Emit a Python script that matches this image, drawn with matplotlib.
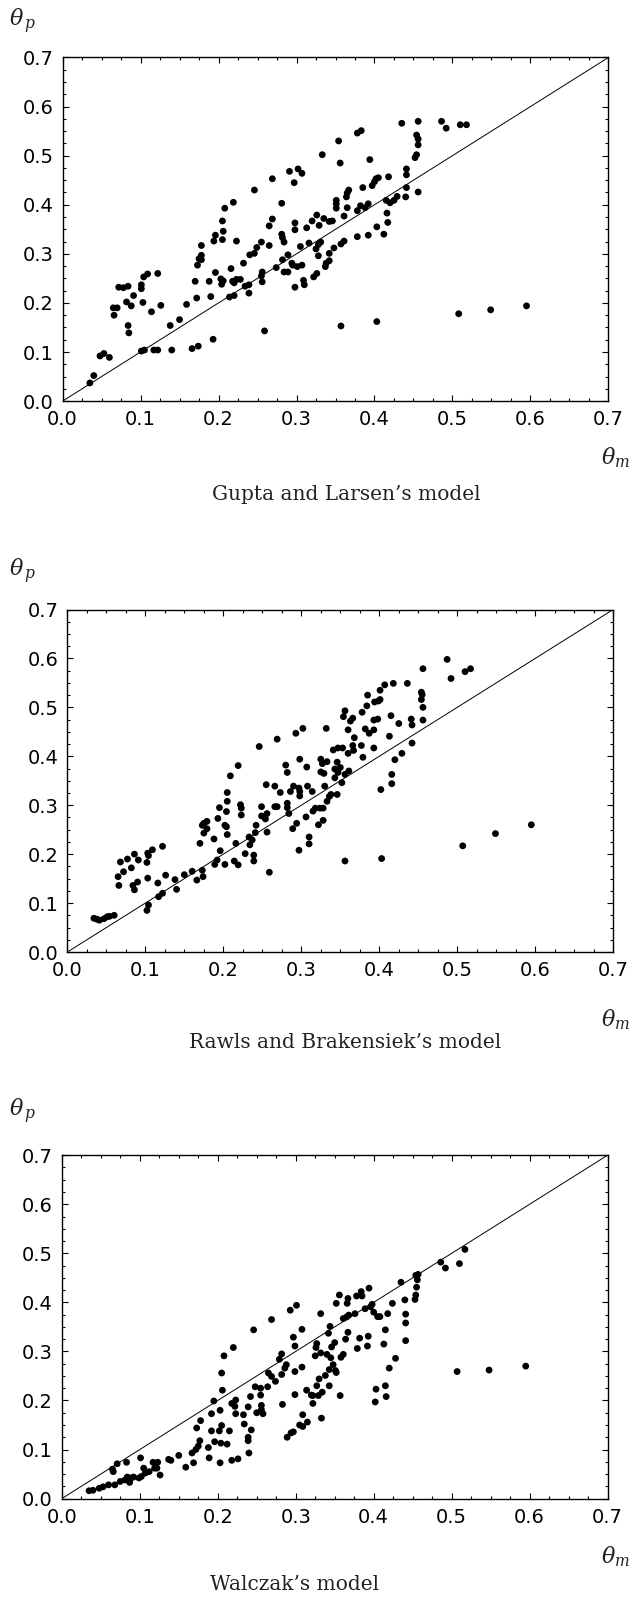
import matplotlib
matplotlib.use('Agg')
import matplotlib.pyplot as plt
from matplotlib.ticker import MultipleLocator

# ---------------- data (theta_m, theta_p) ----------------
gupta_larsen = [
    (0.035, 0.037), (0.040, 0.052), (0.048, 0.092), (0.053, 0.097), (0.060, 0.089),
    (0.065, 0.190), (0.066, 0.175), (0.070, 0.190), (0.072, 0.232), (0.078, 0.231),
    (0.084, 0.234), (0.082, 0.202), (0.084, 0.154), (0.085, 0.139), (0.088, 0.194),
    (0.091, 0.215), (0.101, 0.237), (0.101, 0.229), (0.103, 0.201), (0.104, 0.253),
    (0.109, 0.259), (0.101, 0.102), (0.105, 0.104), (0.114, 0.182), (0.117, 0.104),
    (0.122, 0.104), (0.122, 0.260), (0.126, 0.195), (0.138, 0.154), (0.140, 0.104),
    (0.150, 0.166), (0.159, 0.197), (0.166, 0.107), (0.170, 0.244), (0.172, 0.210),
    (0.173, 0.277), (0.174, 0.112), (0.175, 0.290), (0.178, 0.297), (0.178, 0.317),
    (0.178, 0.288), (0.188, 0.244), (0.190, 0.213), (0.193, 0.126), (0.194, 0.326),
    (0.196, 0.338), (0.196, 0.262), (0.203, 0.249), (0.204, 0.238), (0.205, 0.329),
    (0.206, 0.346), (0.205, 0.367), (0.208, 0.393), (0.206, 0.245), (0.214, 0.212),
    (0.216, 0.270), (0.218, 0.244), (0.220, 0.241), (0.220, 0.215), (0.219, 0.405),
    (0.223, 0.326), (0.223, 0.248), (0.228, 0.248), (0.232, 0.281), (0.234, 0.234),
    (0.239, 0.237), (0.239, 0.220), (0.240, 0.298), (0.246, 0.430), (0.246, 0.301),
    (0.249, 0.313), (0.255, 0.324), (0.256, 0.263), (0.255, 0.255), (0.256, 0.243),
    (0.259, 0.143), (0.265, 0.357), (0.265, 0.317), (0.269, 0.453), (0.269, 0.371),
    (0.274, 0.272), (0.281, 0.403), (0.281, 0.340), (0.282, 0.333), (0.284, 0.324),
    (0.282, 0.288), (0.284, 0.263), (0.289, 0.298), (0.289, 0.263), (0.291, 0.468),
    (0.294, 0.281), (0.295, 0.277), (0.297, 0.445), (0.298, 0.232), (0.298, 0.363),
    (0.298, 0.349), (0.301, 0.274), (0.302, 0.473), (0.307, 0.464), (0.305, 0.315),
    (0.307, 0.277), (0.309, 0.246), (0.310, 0.237), (0.313, 0.353), (0.316, 0.322),
    (0.320, 0.367), (0.322, 0.253), (0.325, 0.310), (0.326, 0.260), (0.326, 0.379),
    (0.328, 0.319), (0.329, 0.358), (0.328, 0.296), (0.331, 0.324), (0.333, 0.502),
    (0.335, 0.372), (0.337, 0.274), (0.338, 0.281), (0.342, 0.301), (0.342, 0.286),
    (0.342, 0.366), (0.346, 0.367), (0.348, 0.312), (0.351, 0.409), (0.351, 0.402),
    (0.351, 0.393), (0.354, 0.530), (0.356, 0.485), (0.357, 0.153), (0.357, 0.320),
    (0.361, 0.326), (0.361, 0.377), (0.364, 0.416), (0.365, 0.424), (0.367, 0.430),
    (0.365, 0.394), (0.378, 0.546), (0.383, 0.551), (0.378, 0.335), (0.378, 0.388),
    (0.382, 0.398), (0.385, 0.435), (0.388, 0.394), (0.392, 0.402), (0.392, 0.338),
    (0.394, 0.492), (0.397, 0.439), (0.400, 0.447), (0.402, 0.453), (0.405, 0.455),
    (0.403, 0.355), (0.403, 0.162), (0.412, 0.340), (0.415, 0.409), (0.416, 0.383),
    (0.417, 0.364), (0.418, 0.457), (0.420, 0.404), (0.425, 0.409), (0.429, 0.417),
    (0.435, 0.566), (0.440, 0.416), (0.441, 0.435), (0.441, 0.461), (0.441, 0.473),
    (0.452, 0.496), (0.454, 0.502), (0.454, 0.542), (0.456, 0.534), (0.456, 0.522),
    (0.456, 0.570), (0.456, 0.426), (0.486, 0.570), (0.492, 0.556), (0.508, 0.178),
    (0.510, 0.563), (0.518, 0.563), (0.549, 0.186), (0.595, 0.194),
]

rawls_brakensiek = [
    (0.034, 0.069), (0.038, 0.067), (0.041, 0.065), (0.047, 0.068), (0.051, 0.072),
    (0.054, 0.073), (0.060, 0.075), (0.065, 0.154), (0.066, 0.136), (0.068, 0.184),
    (0.072, 0.164), (0.077, 0.190), (0.082, 0.172), (0.084, 0.136), (0.086, 0.127),
    (0.086, 0.200), (0.090, 0.143), (0.091, 0.188), (0.102, 0.183), (0.103, 0.202),
    (0.104, 0.197), (0.102, 0.085), (0.104, 0.096), (0.103, 0.151), (0.109, 0.209),
    (0.116, 0.141), (0.117, 0.113), (0.122, 0.120), (0.122, 0.216), (0.126, 0.157),
    (0.138, 0.148), (0.140, 0.128), (0.150, 0.158), (0.160, 0.165), (0.166, 0.147),
    (0.170, 0.222), (0.173, 0.167), (0.174, 0.154), (0.175, 0.243), (0.173, 0.259),
    (0.175, 0.263), (0.179, 0.267), (0.179, 0.252), (0.188, 0.231), (0.189, 0.179),
    (0.192, 0.188), (0.193, 0.273), (0.195, 0.295), (0.196, 0.207), (0.202, 0.179),
    (0.202, 0.259), (0.204, 0.256), (0.205, 0.240), (0.204, 0.287), (0.205, 0.308),
    (0.205, 0.326), (0.209, 0.360), (0.214, 0.186), (0.216, 0.222), (0.219, 0.381),
    (0.219, 0.178), (0.222, 0.301), (0.223, 0.280), (0.223, 0.294), (0.228, 0.201),
    (0.233, 0.235), (0.234, 0.219), (0.237, 0.229), (0.239, 0.198), (0.239, 0.186),
    (0.241, 0.244), (0.242, 0.259), (0.246, 0.420), (0.249, 0.278), (0.249, 0.297),
    (0.254, 0.272), (0.256, 0.283), (0.255, 0.342), (0.256, 0.245), (0.259, 0.163),
    (0.266, 0.339), (0.266, 0.297), (0.269, 0.435), (0.269, 0.297), (0.273, 0.326),
    (0.280, 0.382), (0.282, 0.367), (0.282, 0.304), (0.282, 0.295), (0.284, 0.283),
    (0.286, 0.328), (0.289, 0.252), (0.290, 0.339), (0.293, 0.447), (0.294, 0.263),
    (0.297, 0.335), (0.297, 0.208), (0.298, 0.319), (0.298, 0.394), (0.298, 0.328),
    (0.302, 0.457), (0.306, 0.276), (0.307, 0.378), (0.308, 0.339), (0.310, 0.235),
    (0.310, 0.221), (0.314, 0.328), (0.315, 0.288), (0.318, 0.294), (0.322, 0.260),
    (0.324, 0.294), (0.325, 0.394), (0.325, 0.368), (0.327, 0.385), (0.328, 0.294),
    (0.328, 0.269), (0.329, 0.365), (0.330, 0.339), (0.332, 0.457), (0.333, 0.389),
    (0.333, 0.308), (0.336, 0.318), (0.338, 0.322), (0.341, 0.413), (0.343, 0.356),
    (0.343, 0.374), (0.346, 0.388), (0.346, 0.322), (0.347, 0.417), (0.347, 0.367),
    (0.350, 0.377), (0.352, 0.346), (0.353, 0.417), (0.354, 0.481), (0.356, 0.493),
    (0.356, 0.186), (0.356, 0.363), (0.360, 0.454), (0.361, 0.370), (0.360, 0.406),
    (0.363, 0.472), (0.366, 0.478), (0.366, 0.422), (0.367, 0.412), (0.368, 0.438),
    (0.377, 0.422), (0.378, 0.490), (0.379, 0.398), (0.382, 0.456), (0.384, 0.503),
    (0.385, 0.525), (0.387, 0.447), (0.393, 0.454), (0.393, 0.417), (0.393, 0.474),
    (0.394, 0.511), (0.398, 0.476), (0.399, 0.513), (0.401, 0.516), (0.402, 0.332),
    (0.403, 0.191), (0.401, 0.535), (0.407, 0.546), (0.413, 0.441), (0.415, 0.483),
    (0.416, 0.363), (0.416, 0.344), (0.418, 0.549), (0.420, 0.393), (0.425, 0.467),
    (0.429, 0.406), (0.436, 0.549), (0.441, 0.476), (0.442, 0.464), (0.442, 0.427),
    (0.454, 0.531), (0.454, 0.516), (0.455, 0.526), (0.456, 0.500), (0.456, 0.474),
    (0.456, 0.579), (0.487, 0.598), (0.492, 0.559), (0.507, 0.217), (0.510, 0.573),
    (0.517, 0.579), (0.549, 0.242), (0.595, 0.260),
]

walczak = [
    (0.035, 0.016), (0.040, 0.017), (0.048, 0.021), (0.053, 0.024), (0.060, 0.028),
    (0.065, 0.060), (0.066, 0.055), (0.068, 0.028), (0.071, 0.071), (0.075, 0.035),
    (0.081, 0.038), (0.083, 0.074), (0.084, 0.044), (0.087, 0.033), (0.089, 0.042),
    (0.092, 0.044), (0.099, 0.042), (0.101, 0.083), (0.102, 0.045), (0.105, 0.062),
    (0.107, 0.052), (0.112, 0.055), (0.117, 0.074), (0.119, 0.062), (0.123, 0.074),
    (0.122, 0.062), (0.126, 0.048), (0.137, 0.080), (0.140, 0.078), (0.150, 0.088),
    (0.159, 0.064), (0.167, 0.093), (0.169, 0.073), (0.172, 0.100), (0.173, 0.144),
    (0.175, 0.107), (0.177, 0.118), (0.178, 0.159), (0.188, 0.104), (0.189, 0.083),
    (0.192, 0.173), (0.192, 0.138), (0.195, 0.199), (0.196, 0.116), (0.202, 0.138),
    (0.203, 0.073), (0.203, 0.180), (0.204, 0.113), (0.205, 0.149), (0.205, 0.256),
    (0.206, 0.221), (0.208, 0.291), (0.212, 0.111), (0.215, 0.138), (0.218, 0.078),
    (0.220, 0.308), (0.218, 0.194), (0.223, 0.201), (0.223, 0.173), (0.222, 0.188),
    (0.226, 0.081), (0.233, 0.171), (0.234, 0.152), (0.239, 0.187), (0.240, 0.093),
    (0.239, 0.118), (0.239, 0.125), (0.242, 0.208), (0.243, 0.140), (0.246, 0.344),
    (0.248, 0.228), (0.250, 0.175), (0.255, 0.211), (0.255, 0.225), (0.256, 0.190),
    (0.256, 0.181), (0.258, 0.173), (0.264, 0.228), (0.265, 0.256), (0.269, 0.249),
    (0.269, 0.365), (0.274, 0.239), (0.279, 0.284), (0.282, 0.295), (0.282, 0.253),
    (0.283, 0.192), (0.286, 0.266), (0.288, 0.273), (0.289, 0.125), (0.293, 0.384),
    (0.294, 0.134), (0.297, 0.136), (0.297, 0.329), (0.299, 0.311), (0.299, 0.259),
    (0.299, 0.212), (0.301, 0.394), (0.305, 0.150), (0.308, 0.268), (0.308, 0.345),
    (0.309, 0.171), (0.309, 0.147), (0.315, 0.156), (0.314, 0.221), (0.320, 0.211),
    (0.322, 0.194), (0.322, 0.210), (0.325, 0.291), (0.326, 0.308), (0.327, 0.316),
    (0.327, 0.230), (0.329, 0.210), (0.330, 0.244), (0.332, 0.297), (0.332, 0.377),
    (0.334, 0.217), (0.333, 0.164), (0.338, 0.251), (0.340, 0.294), (0.342, 0.337),
    (0.343, 0.230), (0.344, 0.351), (0.343, 0.263), (0.345, 0.287), (0.346, 0.309),
    (0.348, 0.273), (0.350, 0.318), (0.351, 0.261), (0.352, 0.257), (0.352, 0.398),
    (0.356, 0.415), (0.357, 0.210), (0.358, 0.288), (0.361, 0.367), (0.361, 0.294),
    (0.364, 0.325), (0.365, 0.370), (0.366, 0.398), (0.367, 0.408), (0.368, 0.374),
    (0.367, 0.339), (0.376, 0.377), (0.378, 0.413), (0.379, 0.306), (0.382, 0.327),
    (0.384, 0.422), (0.385, 0.413), (0.389, 0.387), (0.392, 0.311), (0.393, 0.331),
    (0.394, 0.429), (0.396, 0.391), (0.398, 0.396), (0.400, 0.380), (0.402, 0.197),
    (0.403, 0.223), (0.405, 0.371), (0.408, 0.371), (0.413, 0.315), (0.415, 0.344),
    (0.415, 0.230), (0.416, 0.208), (0.418, 0.377), (0.420, 0.266), (0.424, 0.398),
    (0.428, 0.286), (0.435, 0.441), (0.440, 0.405), (0.441, 0.376), (0.441, 0.358),
    (0.441, 0.322), (0.453, 0.406), (0.454, 0.415), (0.455, 0.431), (0.454, 0.455),
    (0.456, 0.446), (0.457, 0.457), (0.486, 0.482), (0.492, 0.470), (0.510, 0.479),
    (0.517, 0.508), (0.507, 0.259), (0.548, 0.262), (0.595, 0.270),
]

tick_values = [0.0, 0.1, 0.2, 0.3, 0.4, 0.5, 0.6, 0.7]
tick_labels = ["0.0", "0.1", "0.2", "0.3", "0.4", "0.5", "0.6", "0.7"]
captions = ["Gupta and Larsen\u2019s model",
            "Rawls and Brakensiek\u2019s model",
            "Walczak\u2019s model"]

# ---------------- layout ----------------
W, H = 633, 1598
plt.rcParams['mathtext.fontset'] = 'dejavuserif'
fig = plt.figure(figsize=(W / 100, H / 100), dpi=100)
fig.patch.set_facecolor('white')

# (left, right, top, bottom) in pixels
panels = [
    dict(pts=gupta_larsen, rect=(62.6, 608.4, 57.5, 401.1), thp=(23, 21),
         thm=(601, 458), cap=(346, 494)),
    dict(pts=rawls_brakensiek, rect=(67.4, 613.2, 609.5, 952.0), thp=(23, 571),
         thm=(601, 1020), cap=(345, 1043)),
    dict(pts=walczak, rect=(61.8, 607.6, 1155.2, 1498.6), thp=(23, 1111),
         thm=(601, 1557), cap=(295, 1584)),
]

for p, cap in zip(panels, captions):
    l, r, t, b = p['rect']
    ax = fig.add_axes([l / W, 1 - b / H, (r - l) / W, (b - t) / H])
    xs = [q[0] for q in p['pts']]
    ys = [q[1] for q in p['pts']]
    ax.plot([0, 0.7], [0, 0.7], color='black', lw=0.7, zorder=2)
    ax.scatter(xs, ys, s=24, c='black', edgecolors='none', zorder=3)
    ax.set_xlim(0, 0.7)
    ax.set_ylim(0, 0.7)
    ax.set_xticks(tick_values)
    ax.set_xticklabels(tick_labels)
    ax.set_yticks(tick_values)
    ax.set_yticklabels(tick_labels)
    ax.xaxis.set_minor_locator(MultipleLocator(0.025))
    ax.yaxis.set_minor_locator(MultipleLocator(0.025))
    ax.tick_params(which='both', direction='in', top=True, right=True,
                   color='black', width=0.8)
    ax.tick_params(which='major', length=4, labelsize=14, pad=6.5)
    ax.tick_params(which='minor', length=2)
    for lab in ax.get_xticklabels() + ax.get_yticklabels():
        lab.set_fontfamily('DejaVu Sans')
    for sp in ax.spines.values():
        sp.set_linewidth(1.0)
        sp.set_color('black')

    x, y = p['thp']
    fig.text(x / W, 1 - y / H, r'$\theta_{\,p}$', fontsize=16, ha='center',
             va='center', color='#222222')
    x, y = p['thm']
    fig.text(x / W, 1 - y / H, r'$\theta_{m}$', fontsize=16, ha='left',
             va='center', color='#222222')
    x, y = p['cap']
    fig.text(x / W, 1 - y / H, cap, fontsize=14.5, family='DejaVu Serif',
             ha='center', va='center', color='#222222')

fig.savefig('out.png', dpi=100, facecolor='white')
